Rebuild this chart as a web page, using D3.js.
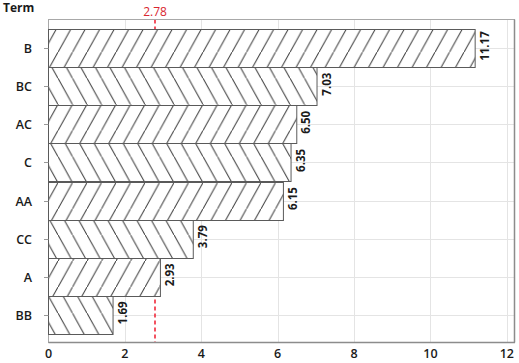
<!DOCTYPE html>
<html>
<head>
<meta charset="utf-8">
<script src="https://cdn.jsdelivr.net/npm/d3@7"></script>
<style>
  body { margin: 0; background: #fff; }
  text { font-family: "Open Sans", "DejaVu Sans", sans-serif; }
</style>
</head>
<body>
<svg class="chart"></svg>
<script>
var terms = ["B", "BC", "AC", "C", "AA", "CC", "A", "BB"];
var effects = [11.17, 7.03, 6.50, 6.35, 6.15, 3.79, 2.93, 1.69];
var xTicks = [0, 2, 4, 6, 8, 10, 12];
var refValue = 2.78;

(function show() {
    'use strict';
    var width = 519, height = 363;
    var frame = {left: 48.5, right: 514.5, top: 19.5, bottom: 342.5};

    var svg = d3.select(".chart")
        .attr("width", width)
        .attr("height", height);

    var x = d3.scaleLinear().domain([0, 12.2]).range([frame.left, frame.right]);
    var y = d3.scaleBand().domain(terms).range([29, 334]).padding(0);

    // hatch patterns, alternating direction per bar
    var p = 14.5, s = 1.8, h = p * s;
    var defs = svg.append("defs");
    defs.append("pattern")
        .attr("id", "hatch-up")
        .attr("patternUnits", "userSpaceOnUse")
        .attr("width", p).attr("height", h)
        .append("path")
        .attr("d", "M-1," + (h + s) + "L0," + h + "L" + p + ",0L" + (p + 1) + "," + (-s))
        .attr("stroke", "#333").attr("stroke-width", 1).attr("fill", "none");
    defs.append("pattern")
        .attr("id", "hatch-down")
        .attr("patternUnits", "userSpaceOnUse")
        .attr("width", p).attr("height", h)
        .append("path")
        .attr("d", "M-1," + (-s) + "L0,0L" + p + "," + h + "L" + (p + 1) + "," + (h + s))
        .attr("stroke", "#333").attr("stroke-width", 1).attr("fill", "none");

    // grid
    svg.append("g").selectAll("line.vg").data(xTicks.slice(1)).enter()
        .append("line")
        .attr("x1", function(d) { return Math.round(x(d)) + 0.5; })
        .attr("x2", function(d) { return Math.round(x(d)) + 0.5; })
        .attr("y1", frame.top).attr("y2", frame.bottom)
        .attr("stroke", "#e4e4e4");
    svg.append("g").selectAll("line.hg").data(terms).enter()
        .append("line")
        .attr("x1", frame.left).attr("x2", frame.right)
        .attr("y1", function(d) { return Math.round(y(d) + y.bandwidth() / 2) + 0.5; })
        .attr("y2", function(d) { return Math.round(y(d) + y.bandwidth() / 2) + 0.5; })
        .attr("stroke", "#e4e4e4");

    // reference line (behind the bars)
    var rx = Math.round(x(refValue));
    svg.append("line")
        .attr("x1", rx).attr("x2", rx)
        .attr("y1", frame.top).attr("y2", frame.bottom)
        .attr("stroke", "#f0283a").attr("stroke-width", 1.6)
        .attr("stroke-dasharray", "4,3");
    svg.append("text")
        .attr("x", rx).attr("y", 16)
        .attr("text-anchor", "middle")
        .attr("font-size", 12)
        .attr("fill", "#d9262f")
        .text(refValue.toFixed(2));

    // frame
    svg.append("rect")
        .attr("x", frame.left).attr("y", frame.top)
        .attr("width", frame.right - frame.left)
        .attr("height", frame.bottom - frame.top)
        .attr("fill", "none").attr("stroke", "#a8a8a8").attr("stroke-width", 1);
    svg.append("line")
        .attr("x1", frame.left).attr("x2", frame.right + 0.5)
        .attr("y1", frame.bottom).attr("y2", frame.bottom)
        .attr("stroke", "#8c8c8c").attr("stroke-width", 1.5);
    svg.append("line")
        .attr("x1", frame.right).attr("x2", frame.right)
        .attr("y1", frame.top).attr("y2", frame.bottom)
        .attr("stroke", "#8c8c8c").attr("stroke-width", 1.5);

    // bars
    var bars = svg.append("g").selectAll("g").data(terms).enter().append("g");
    bars.append("rect")
        .attr("x", frame.left)
        .attr("y", function(d) { return Math.round(y(d)) + 0.5; })
        .attr("width", function(d, i) { return x(effects[i]) - frame.left; })
        .attr("height", Math.round(y.bandwidth()))
        .attr("fill", "#fff");
    bars.append("rect")
        .attr("x", frame.left)
        .attr("y", function(d) { return Math.round(y(d)) + 0.5; })
        .attr("width", function(d, i) { return x(effects[i]) - frame.left; })
        .attr("height", Math.round(y.bandwidth()))
        .attr("fill", function(d, i) { return i % 2 === 0 ? "url(#hatch-up)" : "url(#hatch-down)"; })
        .attr("stroke", "#5a5a5a").attr("stroke-width", 1);

    // value labels, rotated
    bars.append("text")
        .attr("transform", function(d, i) {
            return "translate(" + (x(effects[i]) + 13.5) + "," + (y(d) + y.bandwidth() / 2 - 2) + ") rotate(-90)";
        })
        .attr("text-anchor", "middle")
        .attr("font-size", 11.5)
        .attr("font-weight", 700)
        .attr("fill", "#1a1a1a")
        .text(function(d, i) { return effects[i].toFixed(2); });

    // y axis
    var yAxis = svg.append("g");
    yAxis.selectAll("line").data(terms).enter().append("line")
        .attr("x1", 44).attr("x2", frame.left)
        .attr("y1", function(d) { return Math.round(y(d) + y.bandwidth() / 2) + 0.5; })
        .attr("y2", function(d) { return Math.round(y(d) + y.bandwidth() / 2) + 0.5; })
        .attr("stroke", "#999");
    yAxis.selectAll("text").data(terms).enter().append("text")
        .attr("x", 32)
        .attr("y", function(d) { return y(d) + y.bandwidth() / 2 + 5; })
        .attr("text-anchor", "end")
        .attr("font-size", 12.5)
        .attr("font-weight", 600)
        .attr("fill", "#1a1a1a")
        .text(function(d) { return d; });

    // x axis
    svg.append("g").selectAll("text").data(xTicks).enter().append("text")
        .attr("x", function(d) { return x(d); })
        .attr("y", 358)
        .attr("text-anchor", "middle")
        .attr("font-size", 12.5)
        .attr("font-weight", 600)
        .attr("fill", "#1a1a1a")
        .text(function(d) { return d; });

    svg.append("text")
        .attr("x", 3).attr("y", 12)
        .attr("font-size", 12)
        .attr("font-weight", 700)
        .attr("fill", "#1a1a1a")
        .text("Term");
})();
</script>
</body>
</html>
